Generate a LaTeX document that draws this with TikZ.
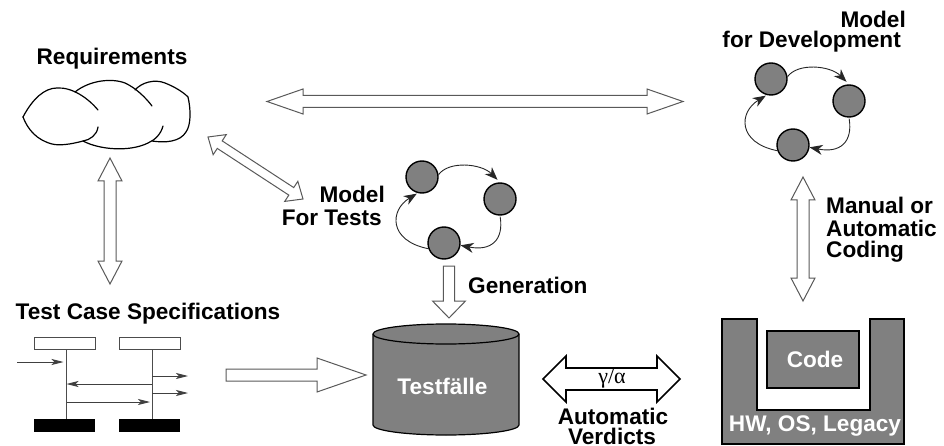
\documentclass[tikz,border=0pt]{standalone}
\usepackage{fontspec}
\setmainfont{Liberation Sans}
\newfontfamily\serifgreek{Liberation Serif}
\usetikzlibrary{calc,arrows.meta}
\definecolor{midgray}{RGB}{128,128,128}
\tikzset{
  lbl/.style={font=\fontsize{22.6}{25}\selectfont\bfseries,inner sep=0pt,text=black},
  whitelbl/.style={font=\fontsize{22.6}{25}\selectfont\bfseries,inner sep=0pt,text=white},
  blockarrow/.style={draw=black!65,line width=1pt,fill=white,line join=miter},
  thickblock/.style={draw=black,line width=1.6pt,fill=white,line join=miter},
  statecircle/.style={circle,draw=black,line width=1.4pt,fill=midgray,minimum size=32pt,inner sep=0pt},
  cyclearrow/.style={draw=black!85,line width=0.9pt,-{Stealth[length=13pt,width=10pt,inset=4pt]}},
  seqline/.style={draw=black!70,line width=1pt},
  seqmsg/.style={draw=black!75,line width=0.9pt,-{Stealth[length=12pt,width=6pt,inset=3pt]}},
  seqhead/.style={draw=black!70,line width=1pt,fill=white,inner sep=0pt,minimum width=61pt,minimum height=12pt},
  seqfoot/.style={fill=black,inner sep=0pt,minimum width=61pt,minimum height=13pt},
  cloudline/.style={draw=black,line width=1.2pt,line cap=round},
  solidbox/.style={draw=black,line width=1.2pt,fill=midgray},
}
% #1,#2 end coordinates, #3 shaft half width, #4 head half width, #5 head length, #6 style
\newcommand\twowayarrow[6]{%
  \coordinate (ha) at ($(#1)!#5pt!(#2)$);
  \coordinate (hb) at ($(#2)!#5pt!(#1)$);
  \draw[#6] (#1) -- ($(ha)!#4pt!90:(#2)$) -- ($(ha)!#3pt!90:(#2)$)
    -- ($(hb)!#3pt!-90:(#1)$) -- ($(hb)!#4pt!-90:(#1)$) -- (#2)
    -- ($(hb)!#4pt!90:(#1)$) -- ($(hb)!#3pt!90:(#1)$)
    -- ($(ha)!#3pt!-90:(#2)$) -- ($(ha)!#4pt!-90:(#2)$) -- cycle;
}
% #1 tail, #2 tip
\newcommand\onewayarrow[6]{%
  \coordinate (hb) at ($(#2)!#5pt!(#1)$);
  \draw[#6] ($(#1)!#3pt!90:(#2)$)
    -- ($(hb)!#3pt!-90:(#1)$) -- ($(hb)!#4pt!-90:(#1)$) -- (#2)
    -- ($(hb)!#4pt!90:(#1)$) -- ($(hb)!#3pt!90:(#1)$)
    -- ($(#1)!#3pt!-90:(#2)$) -- cycle;
}
\newcommand\statecycle[3]{%
  \begin{scope}[shift={(#2,#3)}]
    \node[statecircle] (#1a) at (422,177) {};
    \node[statecircle] (#1b) at (500,199) {};
    \node[statecircle] (#1c) at (444,243) {};
    \draw[cyclearrow,shorten >=3.5pt] (#1a.8) .. controls +(10,-14) and +(-19,-19) .. (#1b.90);
    \draw[cyclearrow,shorten <=1pt] (#1b.270) .. controls +(4,25) and +(30,6) .. (#1c.-8);
    \draw[cyclearrow,shorten >=1pt] (#1c.200) .. controls +(-40,-8) and +(-28,17) .. (#1a.255);
  \end{scope}
}
\begin{document}
\begin{tikzpicture}[x=1pt,y=-1pt]
\useasboundingbox (0,0) rectangle (944,446);

% --- labels
\node[lbl] (reqlabel) at (112,59) {Requirements};
\node[lbl] (speclabel) at (148,314) {Test Case Specifications};
\node[lbl,anchor=east] (modeltestA) at (385,194) {Model};
\node[lbl,anchor=east] (modeltestB) at (382,218) {For Tests};
\node[lbl,anchor=east] (modeldevA) at (906,19) {Model};
\node[lbl,anchor=east] (modeldevB) at (901,42) {for Development};
\node[lbl,anchor=west] (genlabel) at (468,285) {Generation};
\node[lbl,anchor=west] (codingA) at (826,205) {Manual or};
\node[lbl,anchor=west] (codingB) at (826,228) {Automatic};
\node[lbl,anchor=west] (codingC) at (826,252) {Coding};
\node[lbl] (verdictA) at (613,416) {Automatic};
\node[lbl] (verdictB) at (612,436.5) {Verdicts};

% --- requirements cloud
\draw[cloudline] (23,117) .. controls (33,98) and (45,88) .. (57,88)
  .. controls (72,87) and (88,98) .. (98,110);
\draw[cloudline] (75,92) .. controls (90,80) and (112,78) .. (125,83)
  .. controls (136,88) and (146,98) .. (152,106);
\draw[cloudline] (135,90) .. controls (142,82) and (155,79) .. (165,83)
  .. controls (175,87) and (183,92) .. (188,97)
  .. controls (191,110) and (191,125) .. (186,132)
  .. controls (180,142) and (165,143) .. (152,141);
\draw[cloudline] (163,126) .. controls (161,134) and (155,140) .. (148,143)
  .. controls (130,152) and (100,150) .. (83,141);
\draw[cloudline] (98,127) .. controls (97,135) and (90,140) .. (83,141)
  .. controls (72,144) and (60,146) .. (52,144)
  .. controls (37,140) and (28,130) .. (23,117);

% --- state machines
\statecycle{t}{0}{0}
\statecycle{d}{349}{-98}

% --- sequence chart
\node[seqhead] (headA) at (64.5,343) {};
\node[seqhead] (headB) at (149.5,343) {};
\node[seqfoot] (footA) at (64.5,425.5) {};
\node[seqfoot] (footB) at (149.5,425.5) {};
\coordinate (lifeA) at (66.5,343);
\coordinate (lifeB) at (152,343);
\draw[seqline] (headA.south -| lifeA) -- (footA.north -| lifeA);
\draw[seqline] (headB.south -| lifeB) -- (footB.north -| lifeB);
\coordinate (msgIn) at (17,362);
\draw[seqmsg,shorten >=3pt] (msgIn) -- (msgIn -| lifeA);
\coordinate (outOne) at (188,376);
\draw[seqmsg] (outOne -| lifeB) -- (outOne);
\coordinate (outTwo) at (188,393);
\draw[seqmsg] (outTwo -| lifeB) -- (outTwo);
\coordinate (msgBack) at (152,384);
\draw[seqmsg] (msgBack) -- (msgBack -| lifeA);
\coordinate (msgFwd) at (66.5,402);
\draw[seqmsg,shorten >=2pt] (msgFwd) -- (msgFwd -| lifeB);

% --- Testfaelle cylinder
\draw[solidbox] (373,334) -- (373,425) arc[start angle=180,end angle=360,x radius=73,y radius=-10]
  -- (519,334) arc[start angle=0,end angle=180,x radius=73,y radius=-10] -- cycle;
\draw[solidbox,fill=none] (373,334) arc[start angle=180,end angle=360,x radius=73,y radius=-10];
\node[whitelbl] (testcases) at (442.5,386) {Testfälle};

% --- platform and code
\draw[solidbox] (722,319) -- (757,319) -- (757,410) -- (870,410) -- (870,319) -- (904,319)
  -- (904,444) -- (722,444) -- cycle;
\node[solidbox,whitelbl,minimum width=92pt,minimum height=57pt] (code) at (813,359.5) {\hspace{4pt}Code};
\node[whitelbl] (platform) at (815,426) {HW, OS, Legacy};

% --- block arrows
\coordinate (topL) at (267,101.5);
\coordinate (topR) at (683,101.5);
\twowayarrow{topL}{topR}{6}{12.5}{36}{blockarrow}
\coordinate (reqS) at (110,158);
\coordinate (specN) at (110,284);
\twowayarrow{reqS}{specN}{6}{12}{23}{blockarrow}
\coordinate (reqSE) at (208,137);
\coordinate (modelNW) at (303,199);
\twowayarrow{reqSE}{modelNW}{4.5}{12}{14}{blockarrow}
\coordinate (devS) at (803,177);
\coordinate (codeN) at (803,301);
\twowayarrow{devS}{codeN}{6}{12}{23}{blockarrow}
\coordinate (genTop) at (449,266);
\coordinate (genTip) at (449,318);
\onewayarrow{genTop}{genTip}{5.7}{16.5}{17}{blockarrow}
\coordinate (specE) at (226,375);
\coordinate (dbW) at (366,375);
\onewayarrow{specE}{dbW}{6}{17}{49}{blockarrow}
\coordinate (gaL) at (543,379);
\coordinate (gaR) at (680,379);
\twowayarrow{gaL}{gaR}{11}{23}{23}{thickblock}
\node[font=\serifgreek\fontsize{22}{24}\selectfont,inner sep=0pt] (galois) at (612,379) {γ/α};
\end{tikzpicture}
\end{document}
